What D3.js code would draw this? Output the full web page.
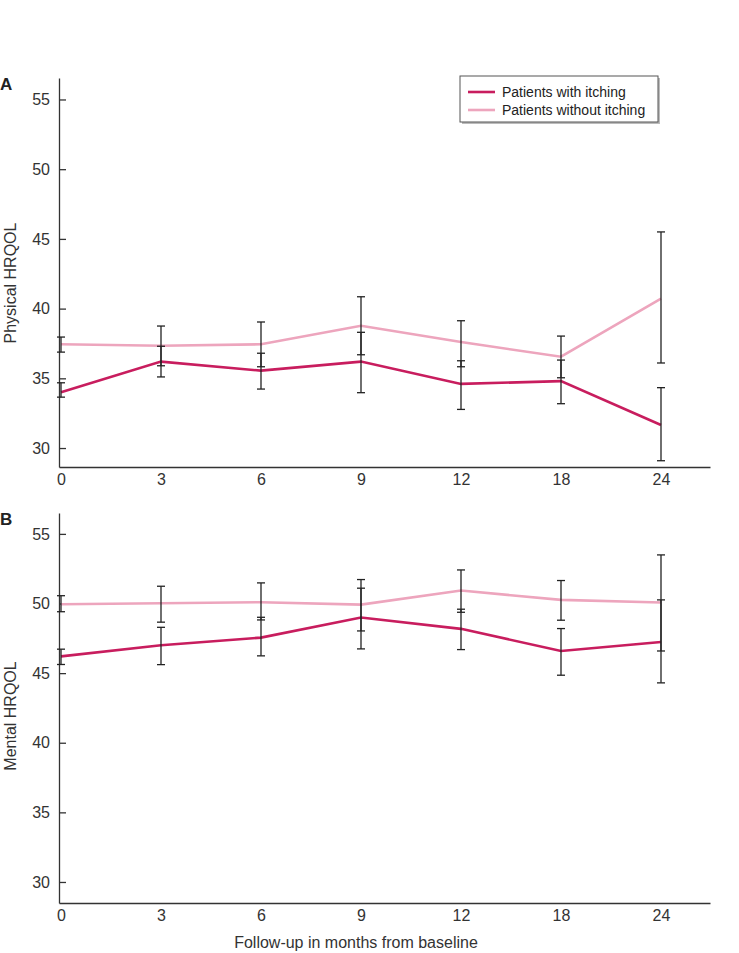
<!DOCTYPE html>
<html><head><meta charset="utf-8">
<script src="https://cdn.jsdelivr.net/npm/d3@7"></script>
<style>body{margin:0;background:#fff}svg{display:block;font-family:"Liberation Sans",Arial,sans-serif}</style>
</head><body><svg id="c" width="739" height="953"></svg>
<script>
const months = ["0","3","6","9","12","18","24"];
const seriesNames = ["Patients with itching","Patients without itching"];
const colors = ["#c81d5e","#eda5bd"];
const yTicks = [30,35,40,45,50,55];

// Panel A: Physical HRQOL
const physItchMean = [34.0,36.2,35.55,36.2,34.6,34.8,31.65];
const physItchLo   = [33.65,35.1,34.23,33.97,32.77,33.18,29.09];
const physItchHi   = [34.68,37.3,36.8,38.3,36.26,36.31,34.33];
const physNoMean   = [37.44,37.34,37.44,38.77,37.6,36.55,40.71];
const physNoLo     = [36.88,35.9,35.83,36.69,35.83,35.04,36.1];
const physNoHi     = [37.96,38.75,39.04,40.85,39.13,38.03,45.5];

// Panel B: Mental HRQOL
const mentItchMean = [46.2,47.0,47.55,48.99,48.18,46.59,47.24];
const mentItchLo   = [45.62,45.61,46.24,46.74,46.69,44.85,44.3];
const mentItchHi   = [46.72,48.29,49.01,51.1,49.59,48.2,50.26];
const mentNoMean   = [49.95,50.02,50.09,49.92,50.93,50.26,50.07];
const mentNoLo     = [49.41,48.66,48.82,48.03,49.37,48.8,46.59];
const mentNoHi     = [50.56,51.24,51.48,51.72,52.41,51.65,53.49];

const svg = d3.select("#c");
const x = d3.scaleLinear().domain([-0.02,6.49]).range([59,710]);

function panel(cfg){
  const y = d3.scaleLinear().domain(cfg.domain).range([cfg.bottom, cfg.top]);
  const g = svg.append("g");
  const ya = g.append("g").attr("transform","translate(59,0)")
    .call(d3.axisLeft(y).tickValues(yTicks).tickSizeInner(-7).tickSizeOuter(0).tickPadding(9));
  const xa = g.append("g").attr("transform",`translate(0,${cfg.bottom})`)
    .call(d3.axisBottom(x).tickValues(d3.range(months.length)).tickFormat(i=>months[i]).tickSize(0).tickPadding(7));
  [ya,xa].forEach(a=>{
    a.selectAll("path,line").attr("stroke","#333").attr("stroke-width",1.3);
    a.selectAll("text").attr("font-size",16).attr("fill","#333").attr("font-family",'"Liberation Sans",Arial,sans-serif');
  });
  g.append("text").attr("transform",`translate(16,${cfg.labelY}) rotate(-90)`)
    .attr("text-anchor","middle").attr("font-size",16).attr("fill","#333").text(cfg.ylabel);
  g.append("text").attr("x",0).attr("y",cfg.top+12).attr("font-size",17).attr("font-weight","bold")
    .attr("fill","#222").text(cfg.letter);
  const line = d3.line().x((d,i)=>x(i)).y(d=>y(d));
  [1,0].forEach(s=>{
    g.append("path").datum(cfg.series[s].mean).attr("d",line).attr("fill","none")
      .attr("stroke",colors[s]).attr("stroke-width",2.6).attr("stroke-linejoin","miter");
  });
  const eg = g.append("g").attr("stroke","#222").attr("stroke-width",1.3);
  cfg.series.forEach(sr=>{
    sr.mean.forEach((m,i)=>{
      const cx = x(i), lo=y(sr.lo[i]), hi=y(sr.hi[i]);
      eg.append("line").attr("x1",cx).attr("x2",cx).attr("y1",lo).attr("y2",hi);
      eg.append("line").attr("x1",cx-4).attr("x2",cx+4).attr("y1",lo).attr("y2",lo);
      eg.append("line").attr("x1",cx-4).attr("x2",cx+4).attr("y1",hi).attr("y2",hi);
    });
  });
}

panel({domain:[28.64,56.54], top:78, bottom:467, labelY:283, ylabel:"Physical HRQOL", letter:"A",
  series:[{mean:physItchMean,lo:physItchLo,hi:physItchHi},{mean:physNoMean,lo:physNoLo,hi:physNoHi}]});
panel({domain:[28.49,56.5], top:513, bottom:903, labelY:716, ylabel:"Mental HRQOL", letter:"B",
  series:[{mean:mentItchMean,lo:mentItchLo,hi:mentItchHi},{mean:mentNoMean,lo:mentNoLo,hi:mentNoHi}]});

svg.append("text").attr("x",356).attr("y",948).attr("text-anchor","middle").attr("font-size",16)
  .attr("fill","#333").text("Follow-up in months from baseline");

// legend
const lg = svg.append("g").attr("transform","translate(460,76)");
lg.append("rect").attr("x",2).attr("y",2).attr("width",198).attr("height",46).attr("fill","#bbb");
lg.append("rect").attr("width",198).attr("height",46).attr("fill","#fff").attr("stroke","#555").attr("stroke-width",1);
seriesNames.forEach((n,i)=>{
  const yy = 16 + i*18;
  lg.append("line").attr("x1",8).attr("x2",35).attr("y1",yy).attr("y2",yy).attr("stroke",colors[i]).attr("stroke-width",2.6);
  lg.append("text").attr("x",42).attr("y",yy+5).attr("font-size",14).attr("fill","#222").text(n);
});
</script></body></html>
